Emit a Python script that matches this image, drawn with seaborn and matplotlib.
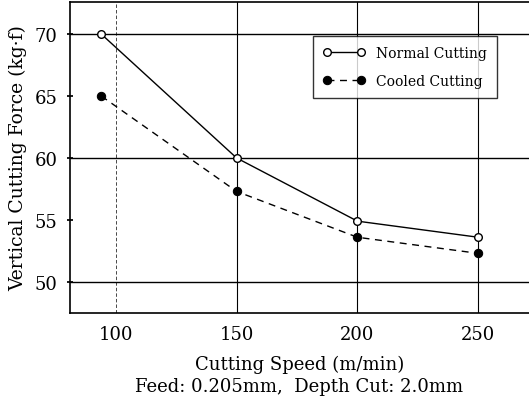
import numpy as np
import pandas as pd
import seaborn as sns
import matplotlib
matplotlib.use("Agg")
import matplotlib.pyplot as plt

# values
speed = [94, 150, 200, 250]
normal_force = [70.0, 60.0, 54.9, 53.6]
cooled_force = [65.0, 57.3, 53.6, 52.3]
x_ticks = [100, 150, 200, 250]
y_ticks = [50, 55, 60, 65, 70]

sns.set_theme(style="white")
plt.rcParams["font.family"] = ["DejaVu Serif"]
plt.rcParams["text.color"] = "black"
plt.rcParams["axes.labelcolor"] = "black"
plt.rcParams["xtick.color"] = "black"
plt.rcParams["ytick.color"] = "black"

fig = plt.figure(figsize=(5.29, 4.06), dpi=100)
ax = fig.add_axes([0.132, 0.227, 0.868, 0.766])

# grid lines as in the scan
for gx in x_ticks:
    ax.axvline(gx, color="black", lw=0.5 if gx == 100 else 0.8,
               ls=(0, (5, 3)) if gx == 100 else "-", zorder=0)
for gy in [50, 60, 70]:
    ax.axhline(gy, color="black", lw=1.0, zorder=0)

sns.lineplot(x=speed, y=normal_force, ax=ax, color="black", lw=1.0,
             marker="o", markersize=5.5, markerfacecolor="white",
             markeredgecolor="black", markeredgewidth=1.0,
             label="Normal Cutting")
sns.lineplot(x=speed, y=cooled_force, ax=ax, color="black", lw=1.0,
             linestyle=(0, (5, 4)), marker="o", markersize=6,
             markerfacecolor="black", markeredgecolor="black",
             label="Cooled Cutting")

ax.set_xlim(81, 271)
ax.set_ylim(47.5, 72.6)
ax.set_xticks(x_ticks)
ax.set_yticks(y_ticks)
ax.tick_params(axis="both", labelsize=13, length=4, direction="inout",
               left=True, bottom=False, pad=7)
for side in ["left", "top", "bottom"]:
    ax.spines[side].set_color("black")
    ax.spines[side].set_linewidth(1.2)
ax.spines["right"].set_visible(False)

ax.set_xlabel("Cutting Speed (m/min)", fontsize=13, labelpad=8)
ax.set_ylabel("Vertical Cutting Force (kg·f)", fontsize=13.5, labelpad=5)
fig.text(0.565, 0.048, "Feed: 0.205mm,  Depth Cut: 2.0mm",
         ha="center", va="center", fontsize=13)

leg = ax.legend(loc="upper left", bbox_to_anchor=(0.529, 0.891),
                borderaxespad=0, numpoints=2, handlelength=3.0,
                fontsize=10, frameon=True, fancybox=False, borderpad=0.75,
                labelspacing=1.0, handletextpad=0.8)
leg.get_frame().set_edgecolor("black")
leg.get_frame().set_linewidth(1.0)

fig.savefig("out.png", dpi=100)
